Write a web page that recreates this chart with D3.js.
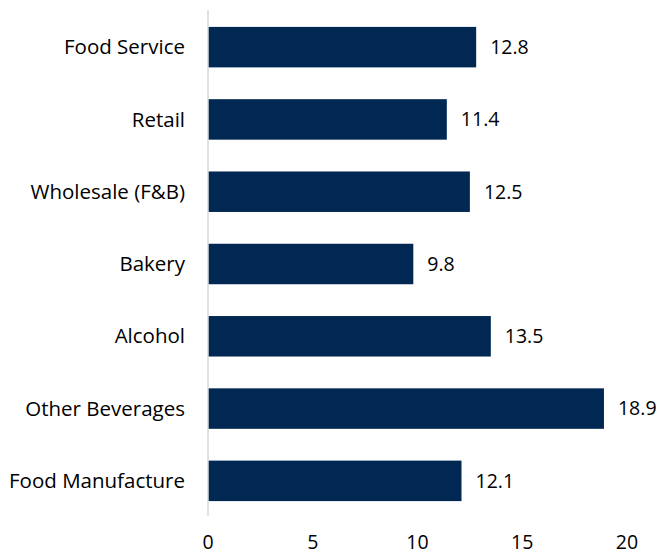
<!DOCTYPE html>
<html>
<head>
<meta charset="utf-8">
<script src="https://cdn.jsdelivr.net/npm/d3@7"></script>
<style>
  body { margin: 0; background: #fff; }
  text { font-family: "Open Sans", sans-serif; fill: #000; }
</style>
</head>
<body>
<div id="chart"></div>
<script>
// Chart data
const categories = ["Food Service", "Retail", "Wholesale (F&B)", "Bakery", "Alcohol", "Other Beverages", "Food Manufacture"];
const values = [12.8, 11.4, 12.5, 9.8, 13.5, 18.9, 12.1];
const tickValues = [0, 5, 10, 15, 20];

const width = 661;
const height = 555;
const margin = { top: 11, right: 35, bottom: 38, left: 208 };

const svg = d3.select("#chart")
    .append("svg")
    .attr("width", width)
    .attr("height", height);

const x = d3.scaleLinear().domain([0, 20]).range([margin.left, 627]);
const y = d3.scaleBand().domain(categories).range([margin.top, height - margin.bottom]).paddingInner(0.44).paddingOuter(0.22);

// bars
svg.selectAll("rect.bar")
    .data(categories)
    .enter().append("rect")
    .attr("class", "bar")
    .attr("x", x(0))
    .attr("y", d => y(d))
    .attr("width", (d, i) => x(values[i]) - x(0))
    .attr("height", y.bandwidth())
    .attr("fill", "#012852");

// value labels
svg.selectAll("text.val")
    .data(categories)
    .enter().append("text")
    .attr("class", "val")
    .attr("x", (d, i) => x(values[i]) + 14)
    .attr("y", d => y(d) + y.bandwidth() / 2)
    .attr("dy", "0.35em")
    .attr("font-size", 19.5)
    .text((d, i) => values[i].toFixed(1));

// category labels
svg.selectAll("text.cat")
    .data(categories)
    .enter().append("text")
    .attr("class", "cat")
    .attr("x", 185)
    .attr("y", d => y(d) + y.bandwidth() / 2)
    .attr("dy", "0.35em")
    .attr("text-anchor", "end")
    .attr("font-size", 20.5)
    .text(d => d);

// vertical axis line
svg.append("line")
    .attr("x1", x(0)).attr("x2", x(0))
    .attr("y1", 10).attr("y2", 516)
    .attr("stroke", "#d9d9d9")
    .attr("stroke-width", 1.5);

// x tick labels
svg.selectAll("text.tick")
    .data(tickValues)
    .enter().append("text")
    .attr("class", "tick")
    .attr("x", d => x(d))
    .attr("y", 542)
    .attr("dy", "0.35em")
    .attr("text-anchor", "middle")
    .attr("font-size", 19.5)
    .text(d => d);
</script>
</body>
</html>
